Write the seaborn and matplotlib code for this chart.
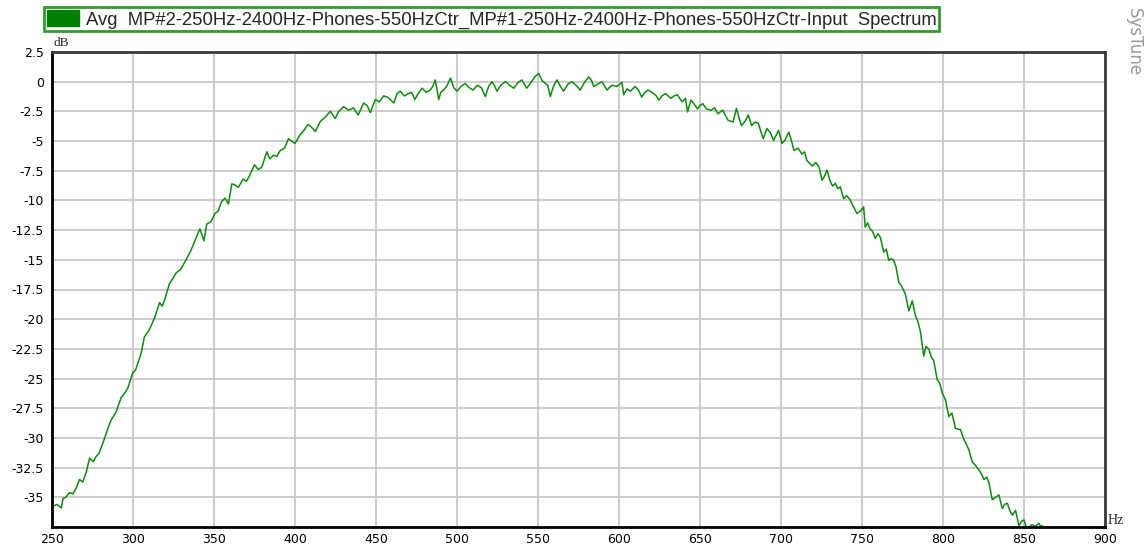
import matplotlib

matplotlib.use('Agg')

import matplotlib.pyplot as plt
import matplotlib.patches as mpatches
from matplotlib.ticker import FuncFormatter
import seaborn as sns
import numpy as np


# spectrum (Hz, dB)
freq_hz = [
    250, 253, 255.8, 256.8, 258.5, 260.9, 263, 265, 267, 269,
    271, 273.2, 275.5, 277, 279, 282, 284.5, 286.5, 289.6, 292.7,
    294.5, 296.8, 299.9, 301.5, 303, 305, 307, 310, 313.3, 316.4,
    318, 319.5, 322.5, 324.5, 326.6, 329.5, 332.7, 335.8, 338.5, 341.3,
    343.8, 345.5, 348, 350.6, 352.5, 354.7, 356.8, 358.9, 361, 363,
    365, 368, 370, 372, 375, 377.3, 379.5, 382.6, 384.5, 386.7,
    388.8, 390.8, 393.5, 396, 398, 400, 403, 405.5, 408, 410,
    412.5, 415.6, 418.5, 421.8, 424.8, 427, 430, 433, 436, 439,
    442.4, 444.5, 446.5, 449.6, 452, 454.7, 457, 458.8, 461, 463,
    465, 467.5, 470, 472, 474, 476, 478.4, 481, 483.5, 485,
    486.6, 488.7, 490, 491.8, 494, 496, 498, 500, 502.5, 505,
    507.5, 510, 512.5, 515, 517.5, 519.5, 521.6, 523, 524.7, 527,
    530, 532.5, 535, 537.5, 540, 543, 545.5, 548, 550.4, 552.5,
    554.5, 556, 557.6, 559.5, 561.7, 563.5, 565.8, 568.5, 571, 573.5,
    576, 578.5, 581.3, 583, 584.4, 587, 589.5, 592.6, 595.5, 598.8,
    601.8, 602.9, 605, 607, 610, 612, 614, 616, 618, 621.5,
    623, 624.6, 626.5, 628.7, 632, 634, 636, 639, 641, 642.3,
    644.4, 646.5, 648.5, 650, 651.7, 654, 656.9, 659, 661, 664,
    665.5, 667.3, 670.4, 672.5, 674, 675.6, 678, 679.8, 681.9, 684,
    686, 689, 691.3, 693.5, 695.4, 698.5, 700.6, 702.5, 704.8, 706.5,
    708, 710.5, 713, 714.5, 716, 719.4, 721.5, 723.5, 725.3, 726.7,
    728.4, 730.4, 731.9, 733.5, 735, 736.6, 738.7, 740.5, 742.5, 744.8,
    746.9, 749, 751, 752, 753.5, 755, 756.5, 758.2, 759.8, 761.3,
    763.4, 765, 766.5, 768, 769.6, 771, 772.7, 774.8, 776.8, 778.9,
    781, 783, 784.5, 786, 788.1, 789.5, 791.2, 792.8, 794.3, 796.4,
    798, 799.5, 801.5, 803.6, 805.5, 807.7, 810.8, 812.5, 813.9, 816,
    818, 820, 822.2, 824, 825.3, 827, 828.4, 830.4, 832.5, 834.5,
    836.6, 838, 839.7, 841.5, 842.8, 844.8, 846.9, 848.5, 850, 851.5,
    853.1, 855, 857, 859, 860.3, 862,
]

level_db = [
    -35.8, -35.6, -35.9, -35.1, -35.0, -34.6, -34.7, -34.2, -33.5, -33.7,
    -32.95, -31.7, -32.0, -31.6, -31.3, -30.2, -29.2, -28.5, -27.8, -26.6,
    -26.3, -25.8, -24.5, -24.3, -23.7, -22.9, -21.5, -20.9, -19.9, -18.6,
    -18.9, -18.4, -17.0, -16.6, -16.1, -15.8, -15.0, -14.2, -13.3, -12.4,
    -13.4, -12.0, -11.8, -11.1, -10.9, -10.1, -9.8, -10.3, -8.6, -8.7,
    -8.9, -8.2, -8.4, -7.9, -7.0, -7.4, -7.2, -5.9, -6.5, -6.2,
    -6.3, -5.8, -5.6, -4.8, -5.0, -5.2, -4.5, -4.1, -3.6, -3.8,
    -4.2, -3.35, -3.0, -2.5, -3.1, -2.5, -2.1, -2.4, -2.2, -2.8,
    -1.8, -2.0, -2.6, -1.5, -1.7, -1.2, -1.3, -1.5, -1.8, -1.0,
    -0.8, -1.2, -1.0, -0.9, -1.5, -1.0, -0.55, -0.9, -0.7, -0.4,
    0.15, -1.5, -0.9, -0.7, -0.3, 0.3, -0.5, -0.8, -0.4, -0.15,
    -0.5, -0.7, -0.3, -0.5, -1.25, -0.4, 0.0, -0.3, -0.8, -0.3,
    0.0, -0.3, -0.55, -0.1, 0.15, -0.55, -0.1, 0.4, 0.7, 0.1,
    -0.15, -0.3, -1.25, -0.4, 0.15, -0.3, -0.8, -0.2, 0.0, -0.3,
    -0.7, -0.1, 0.4, 0.1, -0.4, -0.2, 0.0, -0.7, -0.3, -0.4,
    -0.05, -1.1, -0.6, -0.8, -0.4, -0.7, -1.3, -0.9, -0.7, -1.0,
    -1.2, -1.55, -1.2, -1.0, -1.4, -1.2, -1.1, -1.7, -1.4, -2.55,
    -1.55, -1.9, -2.3, -2.0, -1.85, -2.3, -2.4, -2.2, -2.7, -2.4,
    -2.8, -3.25, -3.4, -2.25, -3.0, -3.7, -3.3, -2.8, -3.7, -3.4,
    -3.5, -4.8, -3.95, -4.3, -4.95, -4.1, -5.2, -4.9, -4.25, -5.0,
    -5.8, -5.6, -6.1, -5.9, -6.65, -7.1, -6.8, -7.2, -8.3, -8.0,
    -7.45, -8.4, -8.8, -8.55, -9.0, -8.85, -9.85, -9.6, -9.9, -10.55,
    -11.1, -10.9, -10.55, -12.25, -11.9, -12.4, -12.6, -13.2, -12.8, -13.1,
    -14.35, -14.1, -15.05, -14.9, -15.05, -15.6, -16.9, -17.3, -17.9, -19.3,
    -18.45, -19.7, -20.2, -21.0, -23.1, -22.3, -22.5, -23.2, -23.5, -25.1,
    -25.4, -26.2, -26.8, -28.2, -27.9, -29.2, -29.3, -30.0, -30.4, -31.0,
    -32.0, -32.3, -32.7, -33.1, -33.5, -33.3, -33.8, -35.2, -35.0, -34.8,
    -35.95, -35.6, -35.5, -36.2, -36.5, -36.1, -37.4, -37.0, -36.9, -37.6,
    -37.5, -37.3, -37.45, -37.2, -37.4, -37.45,
]

x_ticks = list(range(250, 901, 50))
y_ticks = [-35, -32.5, -30, -27.5, -25, -22.5, -20, -17.5, -15, -12.5,
           -10, -7.5, -5, -2.5, 0, 2.5]

series_label = (
    'Avg  MP#2-250Hz-2400Hz-Phones-550HzCtr_'
    'MP#1-250Hz-2400Hz-Phones-550HzCtr-Input  Spectrum'
)

line_green = '#0c8c0c'
W, H = 1147, 550

sns.set_style('white')
plt.rcParams['font.family'] = ['DejaVu Sans']

fig = plt.figure(figsize=(W / 100, H / 100), dpi=100)

ax = fig.add_axes([
    52 / W,
    1 - 527 / H,
    (1105 - 52) / W,
    (527 - 52) / H,
])

sns.lineplot(
    x=freq_hz,
    y=level_db,
    color=line_green,
    linewidth=1.1,
    ax=ax,
    sort=False,
    estimator=None,
)

ax.set_xlim(250, 900)
ax.set_ylim(-37.5, 2.5)

ax.set_xticks(x_ticks)
ax.set_yticks(y_ticks)
ax.yaxis.set_major_formatter(FuncFormatter(lambda v, p: f'{v:g}'))

ax.grid(True, color='#c4c4c4', linewidth=1.2)
ax.set_axisbelow(True)

ax.tick_params(axis='both', length=0, labelsize=9, colors='black')
ax.tick_params(axis='x', pad=4)
ax.tick_params(axis='y', pad=6)

for side in ['left', 'bottom']:
    ax.spines[side].set_color('black')
    ax.spines[side].set_linewidth(2)

for side in ['top', 'right']:
    ax.spines[side].set_color('#3a3a3a')
    ax.spines[side].set_linewidth(2)

ax.set_xlabel('')
ax.set_ylabel('')

fig.text(
    53 / W, 1 - 49 / H, 'dB',
    fontsize=9.5, family='Liberation Serif',
    ha='left', va='bottom',
)

fig.text(
    1108 / W, 1 - 527 / H, 'Hz',
    fontsize=10, family='Liberation Serif',
    ha='left', va='bottom',
)

fig.text(
    1134 / W, 1 - 8 / H, 'SysTune',
    rotation=270, fontsize=12,
    color='#999999', ha='center', va='top',
)

handle = mpatches.Patch(
    facecolor='#008000',
    edgecolor='#008000',
    label=series_label,
)

leg = fig.legend(
    handles=[handle],
    loc='upper left',
    bbox_to_anchor=(44 / W, 1 - 7 / H),
    borderaxespad=0,
    fancybox=False,
    frameon=True,
    handlelength=1.75,
    handleheight=1.0,
    handletextpad=0.35,
    borderpad=0.15,
    prop={'family': 'Liberation Sans', 'size': 13.3},
)

leg.get_frame().set_edgecolor('#008000')
leg.get_frame().set_linewidth(2)

fig.savefig('out.png', dpi=100)

plt.close()
